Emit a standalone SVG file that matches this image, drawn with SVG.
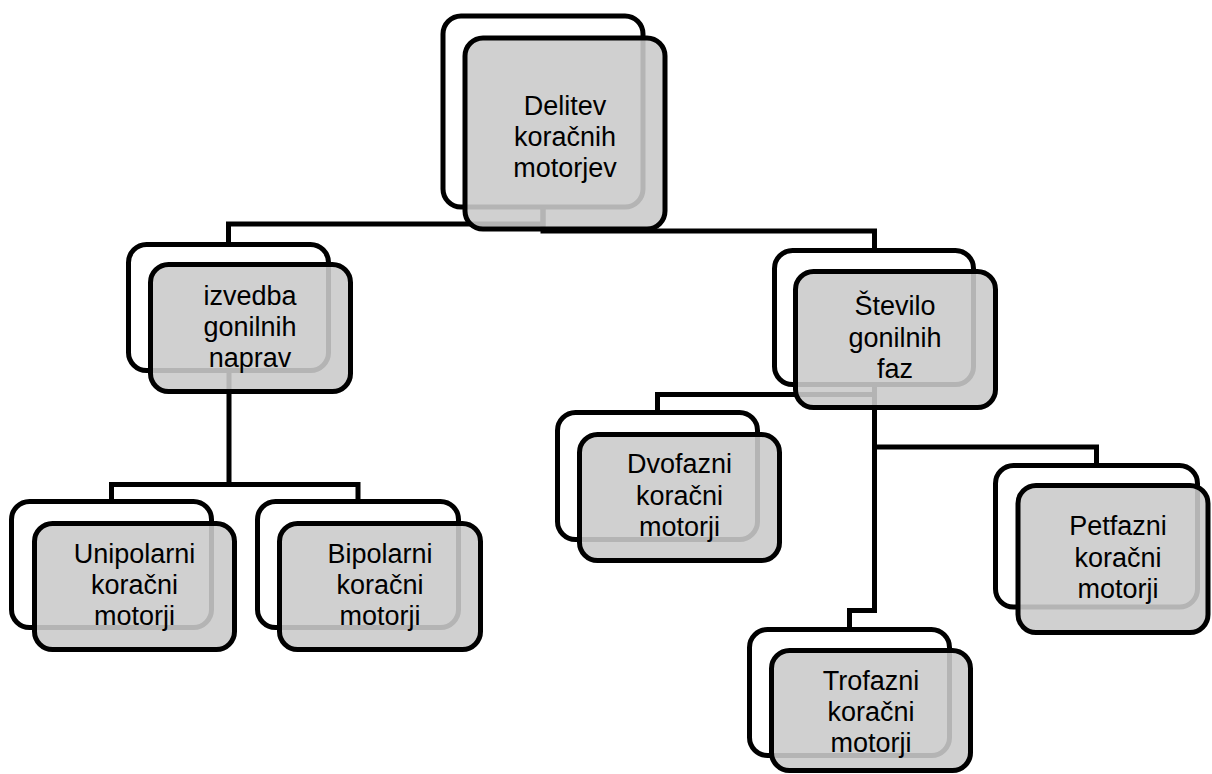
<svg xmlns="http://www.w3.org/2000/svg" width="1212" height="774" viewBox="0 0 1212 774">
<style>
.back{fill:#ffffff;stroke:#000000;stroke-width:5}
.front{fill:#cacaca;fill-opacity:0.89;stroke:#000000;stroke-width:5}
.conn{fill:none;stroke:#000000;stroke-width:5;stroke-linejoin:miter}
text{font-family:"Liberation Sans",Arial,sans-serif;font-size:27px;fill:#000000;text-anchor:middle}
</style>
<rect width="1212" height="774" fill="#ffffff"/>
<g id="connectors">
<path class="conn" d="M543,207 V224 H228.5 V244.5"/>
<path class="conn" d="M543,207 V231 H874.5 V250.5"/>
<path class="conn" d="M229,370.5 V484.5 H111.5 V501.5"/>
<path class="conn" d="M229,484.5 H358 V501.5"/>
<path class="conn" d="M874.5,384.5 V394.5 H657.5 V412.5"/>
<path class="conn" d="M874.5,394.5 V447 H1096.5 V465.5"/>
<path class="conn" d="M874.5,447 V610.5 H849.5 V629.5"/>
</g>
<g id="node-delitev">
<rect class="back" x="443" y="16" width="200" height="191" rx="18"/>
<rect class="front" x="465" y="38" width="200" height="191" rx="18"/>
<text x="565" y="115">Delitev</text>
<text x="565" y="146">koračnih</text>
<text x="565" y="177">motorjev</text>
</g>
<g id="node-izvedba">
<rect class="back" x="128.5" y="244.5" width="200" height="126" rx="18"/>
<rect class="front" x="150.5" y="264.5" width="200" height="127" rx="18"/>
<text x="250" y="305">izvedba</text>
<text x="250" y="336">gonilnih</text>
<text x="250" y="367">naprav</text>
</g>
<g id="node-stevilo">
<rect class="back" x="774.5" y="250.5" width="199" height="134" rx="18"/>
<rect class="front" x="795.5" y="271.5" width="200" height="136" rx="18"/>
<text x="895" y="315">Število</text>
<text x="895" y="347">gonilnih</text>
<text x="895" y="378">faz</text>
</g>
<g id="node-dvofazni">
<rect class="back" x="557.5" y="412.5" width="200" height="127" rx="18"/>
<rect class="front" x="579.5" y="434.5" width="200" height="126" rx="18"/>
<text x="679.5" y="473">Dvofazni</text>
<text x="679.5" y="505">koračni</text>
<text x="679.5" y="536">motorji</text>
</g>
<g id="node-unipolarni">
<rect class="back" x="11.5" y="501.5" width="200" height="126" rx="18"/>
<rect class="front" x="34.5" y="523.5" width="200" height="126" rx="18"/>
<text x="134.5" y="563">Unipolarni</text>
<text x="134.5" y="594">koračni</text>
<text x="134.5" y="625">motorji</text>
</g>
<g id="node-bipolarni">
<rect class="back" x="257.5" y="501.5" width="201" height="126" rx="18"/>
<rect class="front" x="279.5" y="523.5" width="201" height="126" rx="18"/>
<text x="380" y="563">Bipolarni</text>
<text x="380" y="594">koračni</text>
<text x="380" y="625">motorji</text>
</g>
<g id="node-petfazni">
<rect class="back" x="995.5" y="465.5" width="202" height="141.5" rx="18"/>
<rect class="front" x="1018" y="485.5" width="190" height="147" rx="18"/>
<text x="1118" y="535">Petfazni</text>
<text x="1118" y="567">koračni</text>
<text x="1118" y="598">motorji</text>
</g>
<g id="node-trofazni">
<rect class="back" x="749.5" y="629.5" width="200" height="126" rx="18"/>
<rect class="front" x="771.5" y="650.5" width="199" height="120" rx="18"/>
<text x="871" y="690">Trofazni</text>
<text x="871" y="721">koračni</text>
<text x="871" y="752">motorji</text>
</g>
</svg>
